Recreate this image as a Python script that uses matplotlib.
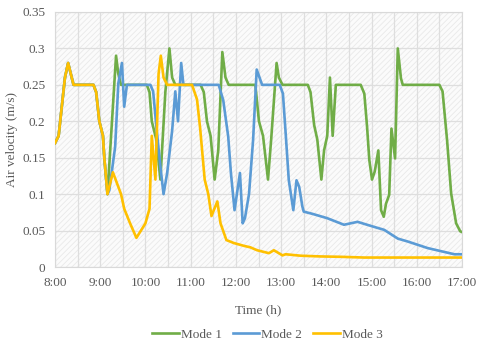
import matplotlib
matplotlib.use("Agg")
import matplotlib.pyplot as plt
from matplotlib.patches import Rectangle
from matplotlib.ticker import FuncFormatter, MultipleLocator

plt.rcParams['font.family'] = ['Liberation Serif', 'DejaVu Serif']
plt.rcParams['hatch.linewidth'] = 0.6

# shared start (all modes identical until ~9:10)
t_start = [8.00, 8.08, 8.22, 8.29, 8.37, 8.41, 8.85, 8.91, 8.98, 9.06, 9.09, 9.16]
v_start = [0.17, 0.18, 0.26, 0.28, 0.26, 0.25, 0.25, 0.24, 0.20, 0.18, 0.15, 0.10]

t_mode1 = t_start + [9.35, 9.40, 9.46, 10.03, 10.09, 10.14, 10.24, 10.33, 10.44, 10.53, 10.59, 10.66,
                     11.22, 11.29, 11.36, 11.44, 11.53, 11.61, 11.70, 11.77, 11.84, 12.43, 12.51,
                     12.60, 12.71, 12.78, 12.90, 12.95, 13.03, 13.59, 13.65, 13.73, 13.80, 13.89,
                     13.95, 14.02, 14.08, 14.14, 14.21, 14.76, 14.84, 14.90, 14.95, 15.01, 15.07,
                     15.15, 15.21, 15.27, 15.32, 15.39, 15.44, 15.52, 15.58, 15.65, 15.69, 16.50,
                     16.57, 16.67, 16.76, 16.87, 16.96, 17.00]
v_mode1 = v_start + [0.29, 0.265, 0.25, 0.25, 0.24, 0.20, 0.175, 0.12, 0.24, 0.30, 0.26, 0.25,
                     0.25, 0.24, 0.20, 0.18, 0.12, 0.16, 0.295, 0.26, 0.25, 0.25, 0.20,
                     0.18, 0.12, 0.175, 0.28, 0.26, 0.25, 0.25, 0.24, 0.195, 0.175, 0.12,
                     0.16, 0.18, 0.26, 0.18, 0.25, 0.25, 0.238, 0.193, 0.147, 0.12, 0.131,
                     0.16, 0.078, 0.069, 0.087, 0.099, 0.19, 0.149, 0.30, 0.259, 0.25, 0.25,
                     0.241, 0.174, 0.101, 0.06, 0.049, 0.048]

t_mode2 = t_start + [9.20, 9.33, 9.40, 9.48, 9.53, 9.59, 10.11, 10.17, 10.25, 10.33, 10.40, 10.48,
                     10.59, 10.66, 10.72, 10.79, 10.84, 11.62, 11.72, 11.83, 11.89, 11.97, 12.09,
                     12.15, 12.20, 12.29, 12.38, 12.46, 12.58, 12.97, 13.04, 13.10, 13.17, 13.27,
                     13.34, 13.40, 13.47, 13.50, 13.69, 14.02, 14.39, 14.69, 15.06, 15.28, 15.58,
                     15.80, 16.24, 16.83, 17.00]
v_mode2 = v_start + [0.105, 0.165, 0.252, 0.28, 0.22, 0.25, 0.25, 0.241, 0.187, 0.138, 0.10, 0.129,
                     0.187, 0.241, 0.20, 0.28, 0.25, 0.25, 0.229, 0.179, 0.129, 0.078, 0.129,
                     0.06, 0.067, 0.10, 0.174, 0.271, 0.25, 0.25, 0.238, 0.184, 0.119, 0.078,
                     0.119, 0.11, 0.083, 0.076, 0.073, 0.067, 0.058, 0.062, 0.055, 0.051, 0.039,
                     0.035, 0.026, 0.0175, 0.0175]

t_mode3 = t_start + [9.20, 9.28, 9.37, 9.46, 9.53, 9.66, 9.80, 9.90, 10.00, 10.09, 10.14, 10.22,
                     10.29, 10.34, 10.40, 10.48, 11.03, 11.14, 11.21, 11.31, 11.39, 11.46, 11.59,
                     11.66, 11.79, 11.95, 12.18, 12.32, 12.47, 12.73, 12.84, 13.03, 13.10, 13.43,
                     13.88, 14.32, 14.84, 17.00]
v_mode3 = v_start + [0.11, 0.13, 0.115, 0.10, 0.08, 0.06, 0.04, 0.05, 0.06, 0.08, 0.18, 0.12,
                     0.265, 0.29, 0.26, 0.25, 0.25, 0.23, 0.19, 0.12, 0.10, 0.07, 0.09,
                     0.06, 0.037, 0.033, 0.029, 0.027, 0.023, 0.019, 0.023, 0.016, 0.0175, 0.0155,
                     0.0145, 0.014, 0.013, 0.013]

series_names = ['Mode 1', 'Mode 2', 'Mode 3']
colors = ['#70AD47', '#5B9BD5', '#FFC000']
x_ticks = list(range(8, 18))
x_labels = [f"{h}:00" for h in x_ticks]

fig = plt.figure(figsize=(4.8, 3.47), dpi=100)
ax = fig.add_axes([0.1146, 0.2305, 0.8479, 0.735])

ax.set_xlim(8, 17)
ax.set_ylim(0, 0.35)
ax.set_facecolor('white')
ax.add_patch(Rectangle((0, 0), 1, 1, transform=ax.transAxes, facecolor='#fbfbfb',
                       edgecolor='#e9e9e9', hatch='//////', linewidth=0, zorder=0))

ax.xaxis.set_major_locator(MultipleLocator(1))
ax.xaxis.set_minor_locator(MultipleLocator(0.5))
ax.yaxis.set_major_locator(MultipleLocator(0.05))
ax.grid(True, which='both', axis='x', color='#dedede', linewidth=0.9, zorder=1)
ax.grid(True, which='major', axis='y', color='#dedede', linewidth=0.9, zorder=1)
ax.set_axisbelow(True)

for t, v, name, c in zip([t_mode1, t_mode2, t_mode3], [v_mode1, v_mode2, v_mode3], series_names, colors):
    ax.plot(t, v, color=c, linewidth=1.9, label=name, zorder=3)

ax.set_xticks(x_ticks)
ax.set_xticklabels(x_labels)
ax.yaxis.set_major_formatter(FuncFormatter(lambda y, p: f"{y:.2f}".rstrip('0').rstrip('.') if y != 0 else "0"))
ax.tick_params(axis='both', which='both', length=0, labelsize=9.5, colors='#595959', pad=7)
ax.tick_params(axis='y', pad=7)
for s in ax.spines.values():
    s.set_color('#d9d9d9')
    s.set_linewidth(0.8)

ax.set_xlabel('Time (h)', fontsize=9.5, color='#595959')
ax.set_ylabel('Air velocity (m/s)', fontsize=9.5, color='#595959')
ax.xaxis.set_label_coords(0.5, -0.148)
ax.yaxis.set_label_coords(-0.092, 0.5)

ax.legend(loc='center', bbox_to_anchor=(0.522, -0.265), ncol=3, frameon=False, fontsize=9.5,
          handlelength=2.0, columnspacing=0.85, handletextpad=0.15, labelcolor='#595959')

fig.savefig('out.png', dpi=100)
